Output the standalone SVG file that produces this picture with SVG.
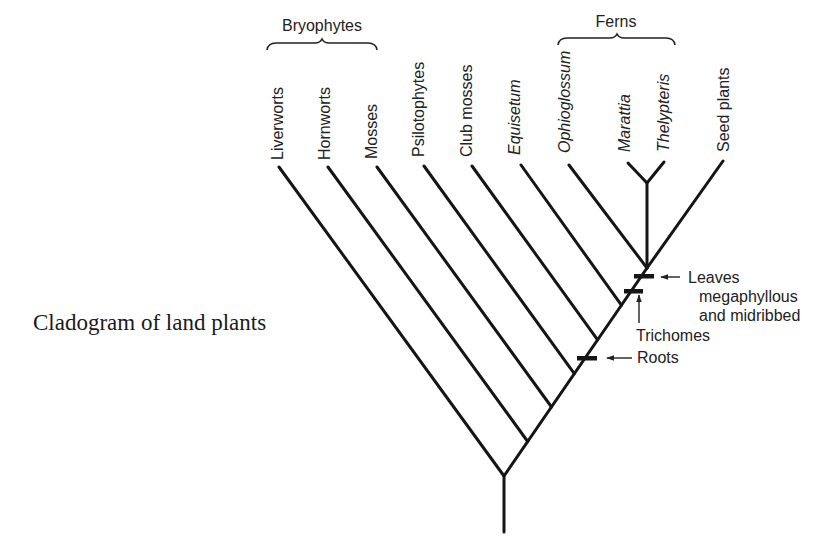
<svg xmlns="http://www.w3.org/2000/svg" width="826" height="536" viewBox="0 0 826 536">
<defs>
<style>
.br{stroke:#151515;stroke-width:3;fill:none;stroke-linecap:round}
.bar{fill:#151515}
.ar{stroke:#222;stroke-width:1.4;fill:none}
.lab{font-family:"Liberation Sans",Arial,sans-serif;font-size:16px;fill:#222}
.it{font-style:italic}
.brace{stroke:#222;stroke-width:1.6;fill:none}
.cap{font-family:"Liberation Serif","Times New Roman",serif;font-size:23px;fill:#1a1a1a}
</style>
<marker id="ah" viewBox="0 0 10 10" refX="9" refY="5" markerWidth="8" markerHeight="8" orient="auto" markerUnits="userSpaceOnUse">
<path d="M0,1.5 L10,5 L0,8.5 Z" fill="#222"/>
</marker>
</defs>
<rect width="826" height="536" fill="#ffffff"/>

<g id="connectors">
<path class="br" d="M504,532 L504,476 L647,268"/>
<path class="br" d="M279,167 L504,476"/>
<path class="br" d="M328,167 L527.7,441.5"/>
<path class="br" d="M377,167 L551.5,407"/>
<path class="br" d="M424,166 L574.3,373.7"/>
<path class="br" d="M472,166 L597.6,339.8"/>
<path class="br" d="M521,165 L621.4,305.2"/>
<path class="br" d="M569,165 L647,268"/>
<path class="br" d="M723,161 L647,268"/>
<path class="br" d="M647,268 L647,183"/>
<path class="br" d="M628,163 L647,183 L664,162"/>
</g>

<g id="trait-roots">
<rect class="bar" x="577" y="356" width="20" height="4.5"/>
<line class="ar" x1="632" y1="358" x2="607" y2="358" marker-end="url(#ah)"/>
<text class="lab" x="637" y="363">Roots</text>
</g>
<g id="trait-trichomes">
<rect class="bar" x="624" y="289" width="19" height="4.5"/>
<line class="ar" x1="639" y1="323" x2="639" y2="295" marker-end="url(#ah)"/>
<text class="lab" x="636" y="341">Trichomes</text>
</g>
<g id="trait-leaves">
<rect class="bar" x="634" y="274" width="20" height="4.5"/>
<line class="ar" x1="680" y1="277" x2="661" y2="277" marker-end="url(#ah)"/>
<text class="lab" x="688" y="283">Leaves</text>
<text class="lab" x="699" y="302">megaphyllous</text>
<text class="lab" x="699" y="321">and midribbed</text>
</g>

<g id="taxon-liverworts"><text class="lab" transform="translate(283,160) rotate(-90)">Liverworts</text></g>
<g id="taxon-hornworts"><text class="lab" transform="translate(330,160) rotate(-90)">Hornworts</text></g>
<g id="taxon-mosses"><text class="lab" transform="translate(377,159) rotate(-90)">Mosses</text></g>
<g id="taxon-psilotophytes"><text class="lab" transform="translate(424,157) rotate(-90)">Psilotophytes</text></g>
<g id="taxon-clubmosses"><text class="lab" transform="translate(472,157) rotate(-90)">Club mosses</text></g>
<g id="taxon-equisetum"><text class="lab it" transform="translate(520,155) rotate(-90)">Equisetum</text></g>
<g id="taxon-ophioglossum"><text class="lab it" transform="translate(570,153) rotate(-90)">Ophioglossum</text></g>
<g id="taxon-marattia"><text class="lab it" transform="translate(630,152) rotate(-90)">Marattia</text></g>
<g id="taxon-thelypteris"><text class="lab it" transform="translate(669,152) rotate(-90)">Thelypteris</text></g>
<g id="taxon-seedplants"><text class="lab" transform="translate(729,152) rotate(-90)">Seed plants</text></g>

<g id="group-bryophytes">
<path class="brace" d="M267,50 Q268,43 276,43 L315,43 Q320,43 322,39 Q324,43 329,43 L368,43 Q376,43 377,50"/>
<text class="lab" x="322" y="31" text-anchor="middle">Bryophytes</text>
</g>
<g id="group-ferns">
<path class="brace" d="M558,45 Q559,38 567,38 L610,38 Q615,38 617,34 Q619,38 624,38 L666,38 Q674,38 675,45"/>
<text class="lab" x="616" y="27" text-anchor="middle">Ferns</text>
</g>

<g id="caption"><text class="cap" x="33" y="330">Cladogram of land plants</text></g>
</svg>
